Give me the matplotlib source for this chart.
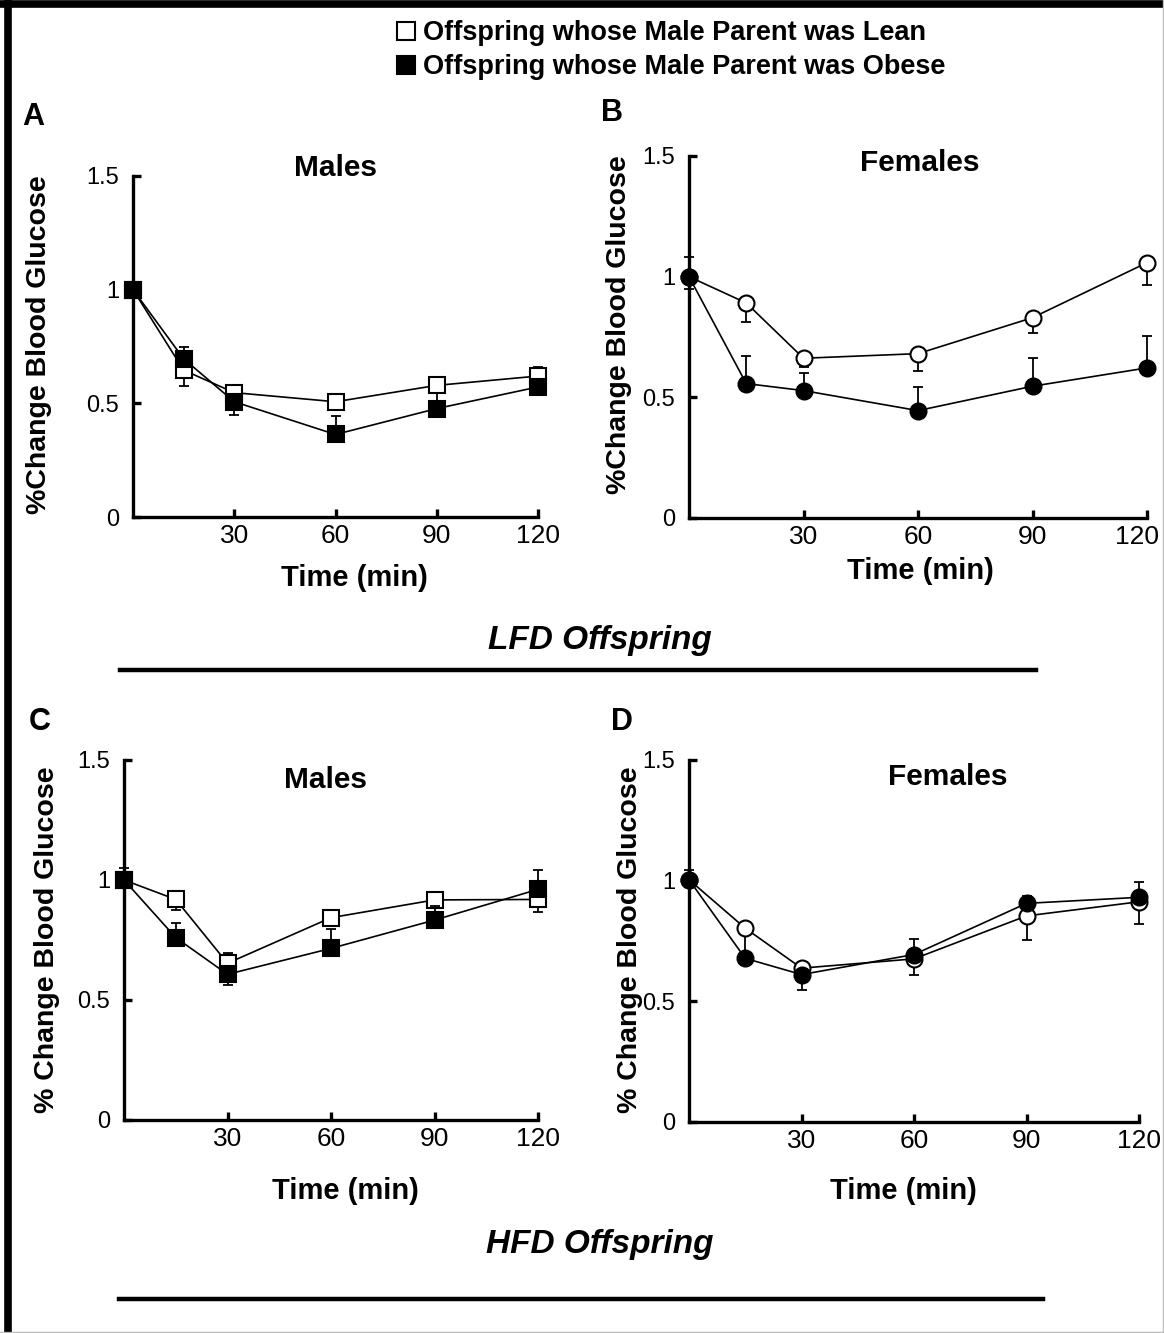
import matplotlib
matplotlib.use("Agg")
import matplotlib.pyplot as plt
import matplotlib.transforms as mtransforms
from matplotlib.lines import Line2D

plt.rcParams['font.family'] = ['Liberation Sans', 'DejaVu Sans']

# ---------------- data ----------------
times = [0, 15, 30, 60, 90, 120]
xtick_vals = [30, 60, 90, 120]
ytick_vals = [0, 0.5, 1, 1.5]
ytick_labels = ["0", "0.5", "1", "1.5"]
legend_labels = ["Offspring whose Male Parent was Lean",
                 "Offspring whose Male Parent was Obese"]

# Panel A: LFD males
A_lean = [1.0, 0.646, 0.547, 0.507, 0.579, 0.62]
A_lean_lo = [0, 0.07, 0, 0, 0, 0]
A_lean_hi = [0, 0, 0, 0, 0, 0.04]
A_obese = [1.0, 0.696, 0.507, 0.363, 0.477, 0.572]
A_obese_lo = [0, 0, 0.057, 0, 0, 0]
A_obese_hi = [0, 0.05, 0, 0.08, 0.07, 0]

# Panel B: LFD females
B_lean = [1.0, 0.891, 0.662, 0.681, 0.83, 1.058]
B_lean_lo = [0.05, 0.078, 0.035, 0.07, 0.062, 0.093]
B_lean_hi = [0, 0, 0, 0, 0, 0]
B_obese = [1.0, 0.557, 0.528, 0.445, 0.546, 0.622]
B_obese_lo = [0, 0, 0, 0, 0, 0]
B_obese_hi = [0.08, 0.114, 0.074, 0.099, 0.118, 0.131]

# Panel C: HFD males
C_lean = [1.0, 0.919, 0.653, 0.843, 0.917, 0.919]
C_lean_lo = [0, 0.045, 0, 0, 0, 0.052]
C_lean_hi = [0, 0, 0.044, 0, 0, 0]
C_obese = [1.0, 0.76, 0.607, 0.715, 0.833, 0.961]
C_obese_lo = [0, 0, 0.046, 0, 0, 0]
C_obese_hi = [0.051, 0.059, 0, 0.079, 0.06, 0.081]

# Panel D: HFD females
D_lean = [1.004, 0.803, 0.6375, 0.676, 0.854, 0.9125]
D_lean_lo = [0, 0.11, 0, 0.065, 0.1, 0.094]
D_lean_hi = [0, 0, 0, 0, 0, 0]
D_obese = [1.004, 0.678, 0.611, 0.694, 0.906, 0.931]
D_obese_lo = [0, 0, 0.065, 0, 0, 0]
D_obese_hi = [0.042, 0, 0, 0.063, 0.032, 0.065]

W, H = 1164, 1333
fig = plt.figure(figsize=(W / 100, H / 100), dpi=100)


def fx(x):
    return x / W


def fy(y):
    return 1 - y / H


def make_axes(left, right, top, bottom):
    return fig.add_axes([fx(left), fy(bottom), (right - left) / W, (bottom - top) / H])


def draw_panel(ax, lean, lean_lo, lean_hi, obese, obese_lo, obese_hi, marker):
    for vals, lo, hi, face, z in [(lean, lean_lo, lean_hi, 'white', 4),
                                  (obese, obese_lo, obese_hi, 'black', 6)]:
        ax.errorbar(times, vals, yerr=[lo, hi], fmt='none', ecolor='black',
                    elinewidth=1.3, capsize=3.8, capthick=1.3, zorder=z - 1,
                    clip_on=False)
        ax.plot(times, vals, '-', color='black', lw=1.2, zorder=z - 1, clip_on=False)
        ax.plot(times, vals, linestyle='none', marker=marker, ms=11.5,
                mfc=face, mec='black', mew=1.5, zorder=z, clip_on=False)
    ax.set_xlim(0, 120)
    ax.set_ylim(0, 1.5)
    ax.set_xticks(xtick_vals)
    ax.set_xticklabels([str(v) for v in xtick_vals], fontsize=19)
    ax.set_yticks(ytick_vals)
    ax.set_yticklabels(ytick_labels, fontsize=17)
    for s in ['top', 'right']:
        ax.spines[s].set_visible(False)
    for s in ['left', 'bottom']:
        ax.spines[s].set_linewidth(2.4)
    ax.tick_params(axis='both', direction='in', length=6, width=2.4)
    ax.tick_params(axis='x', pad=5)
    ax.tick_params(axis='y', pad=10)
    ax.patch.set_alpha(0)


axA = make_axes(133, 538, 176, 517)
draw_panel(axA, A_lean, A_lean_lo, A_lean_hi, A_obese, A_obese_lo, A_obese_hi, 's')
axB = make_axes(689, 1147, 156, 518)
draw_panel(axB, B_lean, B_lean_lo, B_lean_hi, B_obese, B_obese_lo, B_obese_hi, 'o')
axC = make_axes(124, 538, 760, 1120)
draw_panel(axC, C_lean, C_lean_lo, C_lean_hi, C_obese, C_obese_lo, C_obese_hi, 's')
axD = make_axes(689, 1139, 760, 1122)
draw_panel(axD, D_lean, D_lean_lo, D_lean_hi, D_obese, D_obese_lo, D_obese_hi, 'o')

# shift the last tick label of panel B left so it stays inside the figure
lbl = axB.get_xticklabels()[-1]
lbl.set_transform(lbl.get_transform() + mtransforms.ScaledTranslation(-10 / 100, 0, fig.dpi_scale_trans))

# ---------------- texts ----------------
bold = dict(fontweight='bold', ha='center', va='center')
fig.text(fx(33), fy(117), "A", fontsize=22, **bold)
fig.text(fx(612), fy(113), "B", fontsize=22, **bold)
fig.text(fx(40), fy(722), "C", fontsize=22, **bold)
fig.text(fx(622), fy(722), "D", fontsize=22, **bold)

fig.text(fx(335), fy(168), "Males", fontsize=21.5, **bold)
fig.text(fx(920), fy(163), "Females", fontsize=21.5, **bold)
fig.text(fx(326), fy(780), "Males", fontsize=21.5, **bold)
fig.text(fx(948), fy(777), "Females", fontsize=21.5, **bold)

fig.text(fx(39), fy(345), "%Change Blood Glucose", rotation=90, fontsize=20.5, **bold)
fig.text(fx(619), fy(325), "%Change Blood Glucose", rotation=90, fontsize=20.5, **bold)
fig.text(fx(47), fy(940), "% Change Blood Glucose", rotation=90, fontsize=20.5, **bold)
fig.text(fx(630), fy(940), "% Change Blood Glucose", rotation=90, fontsize=20.5, **bold)

fig.text(fx(354), fy(578), "Time (min)", fontsize=21, **bold)
fig.text(fx(920), fy(571), "Time (min)", fontsize=21, **bold)
fig.text(fx(345), fy(1191), "Time (min)", fontsize=21, **bold)
fig.text(fx(903), fy(1191), "Time (min)", fontsize=21, **bold)

fig.text(fx(600), fy(640), "LFD Offspring", fontsize=24, fontstyle='italic', **bold)
fig.text(fx(600), fy(1245), "HFD Offspring", fontsize=24, fontstyle='italic', **bold)

# separator lines
fig.add_artist(Line2D([fx(120), fx(1036)], [fy(670), fy(670)], transform=fig.transFigure,
                      color='black', lw=3.2))
fig.add_artist(Line2D([fx(119), fx(1043)], [fy(1299), fy(1299)], transform=fig.transFigure,
                      color='black', lw=3.2))

# outer frame
fig.add_artist(Line2D([fx(7.5), fx(7.5)], [fy(0), fy(1333)], transform=fig.transFigure,
                      color='black', lw=5.5))
fig.add_artist(Line2D([fx(0), fx(1164)], [fy(3.5), fy(3.5)], transform=fig.transFigure,
                      color='black', lw=5.5))
fig.add_artist(Line2D([fx(1163), fx(1163)], [fy(0), fy(1333)], transform=fig.transFigure,
                      color='#bbbbbb', lw=1))
fig.add_artist(Line2D([fx(0), fx(1164)], [fy(1332), fy(1332)], transform=fig.transFigure,
                      color='#bbbbbb', lw=1))

# legend
handles = [Line2D([], [], linestyle='none', marker='s', ms=12.5, mfc='white', mec='black', mew=1.5),
           Line2D([], [], linestyle='none', marker='s', ms=12.5, mfc='black', mec='black', mew=1.5)]
fig.legend(handles, legend_labels, loc='upper left', bbox_to_anchor=(fx(395), fy(20)),
           frameon=False, prop=dict(weight='bold', size=19.5), handletextpad=0.25,
           labelspacing=0.3, handlelength=0.8, borderpad=0, borderaxespad=0)

fig.savefig("out.png", dpi=100)
